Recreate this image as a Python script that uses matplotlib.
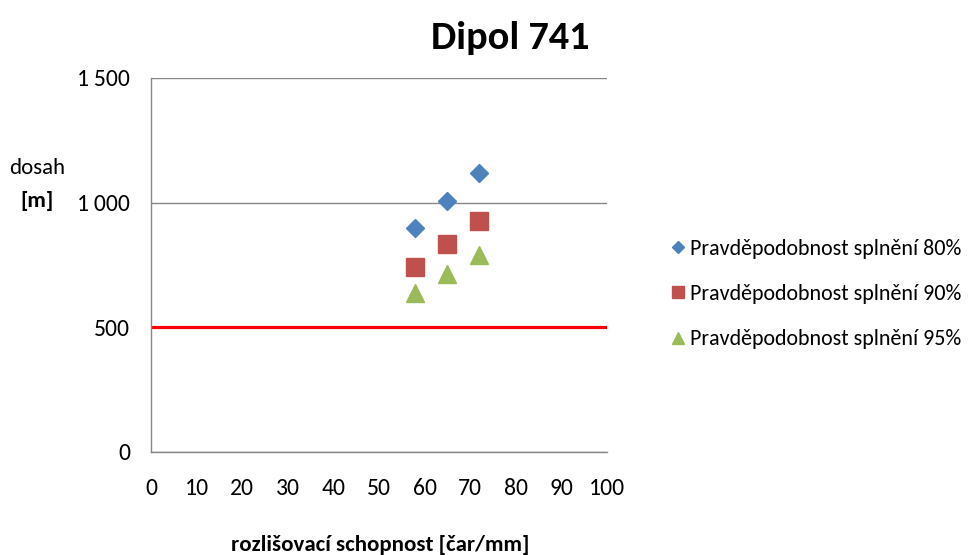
import matplotlib
matplotlib.use("Agg")
import matplotlib.pyplot as plt
from matplotlib import font_manager
from matplotlib.ticker import FuncFormatter, MultipleLocator

available = {f.name for f in font_manager.fontManager.ttflist}
fam = None
for cand in ["Carlito", "Liberation Sans Narrow", "Open Sans", "Noto Sans", "DejaVu Sans"]:
    if cand in available:
        fam = cand
        break
plt.rcParams['font.family'] = [fam, 'DejaVu Sans']

title = "Dipol 741"
x_label = "rozlišovací schopnost [čar/mm]"
y_label_top = "dosah"
y_label_bottom = "[m]"

resolution = [58, 65, 72]
series_names = ["Pravděpodobnost splnění 80%",
                "Pravděpodobnost splnění 90%",
                "Pravděpodobnost splnění 95%"]
range_80 = [896, 1006, 1117]
range_90 = [742, 832, 927]
range_95 = [635, 713, 788]
limit_value = 500

fig = plt.figure(figsize=(9.75, 5.55), dpi=100)
ax = fig.add_axes([151/975, 1 - 451.5/555, (607-151)/975, (451.5-78)/555])

ax.set_xlim(0, 100)
ax.set_ylim(0, 1500)
ax.xaxis.set_major_locator(MultipleLocator(10))
ax.yaxis.set_major_locator(MultipleLocator(500))
ax.yaxis.set_major_formatter(FuncFormatter(lambda v, p: f"{v:,.0f}".replace(",", "\u2009")))

ax.grid(axis='y', color='#868686', lw=1.0)
ax.set_axisbelow(True)
for s in ['top', 'right']:
    ax.spines[s].set_visible(False)
for s in ['left', 'bottom']:
    ax.spines[s].set_color('#868686')
    ax.spines[s].set_linewidth(1.0)
ax.tick_params(length=0, labelsize=17, colors='#000000')
ax.tick_params(axis='x', pad=19)
ax.tick_params(axis='y', pad=15)

ax.axhline(limit_value, color='#FF0000', lw=2.3, zorder=2)

ax.plot(resolution, range_80, ls='none', marker='D', ms=9, color='#4F81BD', label=series_names[0], zorder=3)
ax.plot(resolution, range_90, ls='none', marker='s', ms=13, color='#C0504D', label=series_names[1], zorder=3)
ax.plot(resolution, range_95, ls='none', marker='^', ms=13, color='#9BBB59', label=series_names[2], zorder=3)

fig.text(510/975, 1 - 38/555, title, fontsize=29, fontweight='bold', ha='center', va='center')
fig.text(37/975, 1 - 168/555, y_label_top, fontsize=16.5, ha='center', va='center')
fig.text(37/975, 1 - 201/555, y_label_bottom, fontsize=16.5, fontweight='bold', ha='center', va='center')
fig.text(380/975, 1 - 545/555, x_label, fontsize=16.5, fontweight='bold', ha='center', va='center')

leg = fig.legend(loc='center left', bbox_to_anchor=(663/975, 1 - 294/555), frameon=False,
                 fontsize=15.8, handlelength=0.55, handletextpad=0.3, labelspacing=1.15,
                 markerscale=0.7, borderaxespad=0)

fig.savefig("out.png", dpi=100)
